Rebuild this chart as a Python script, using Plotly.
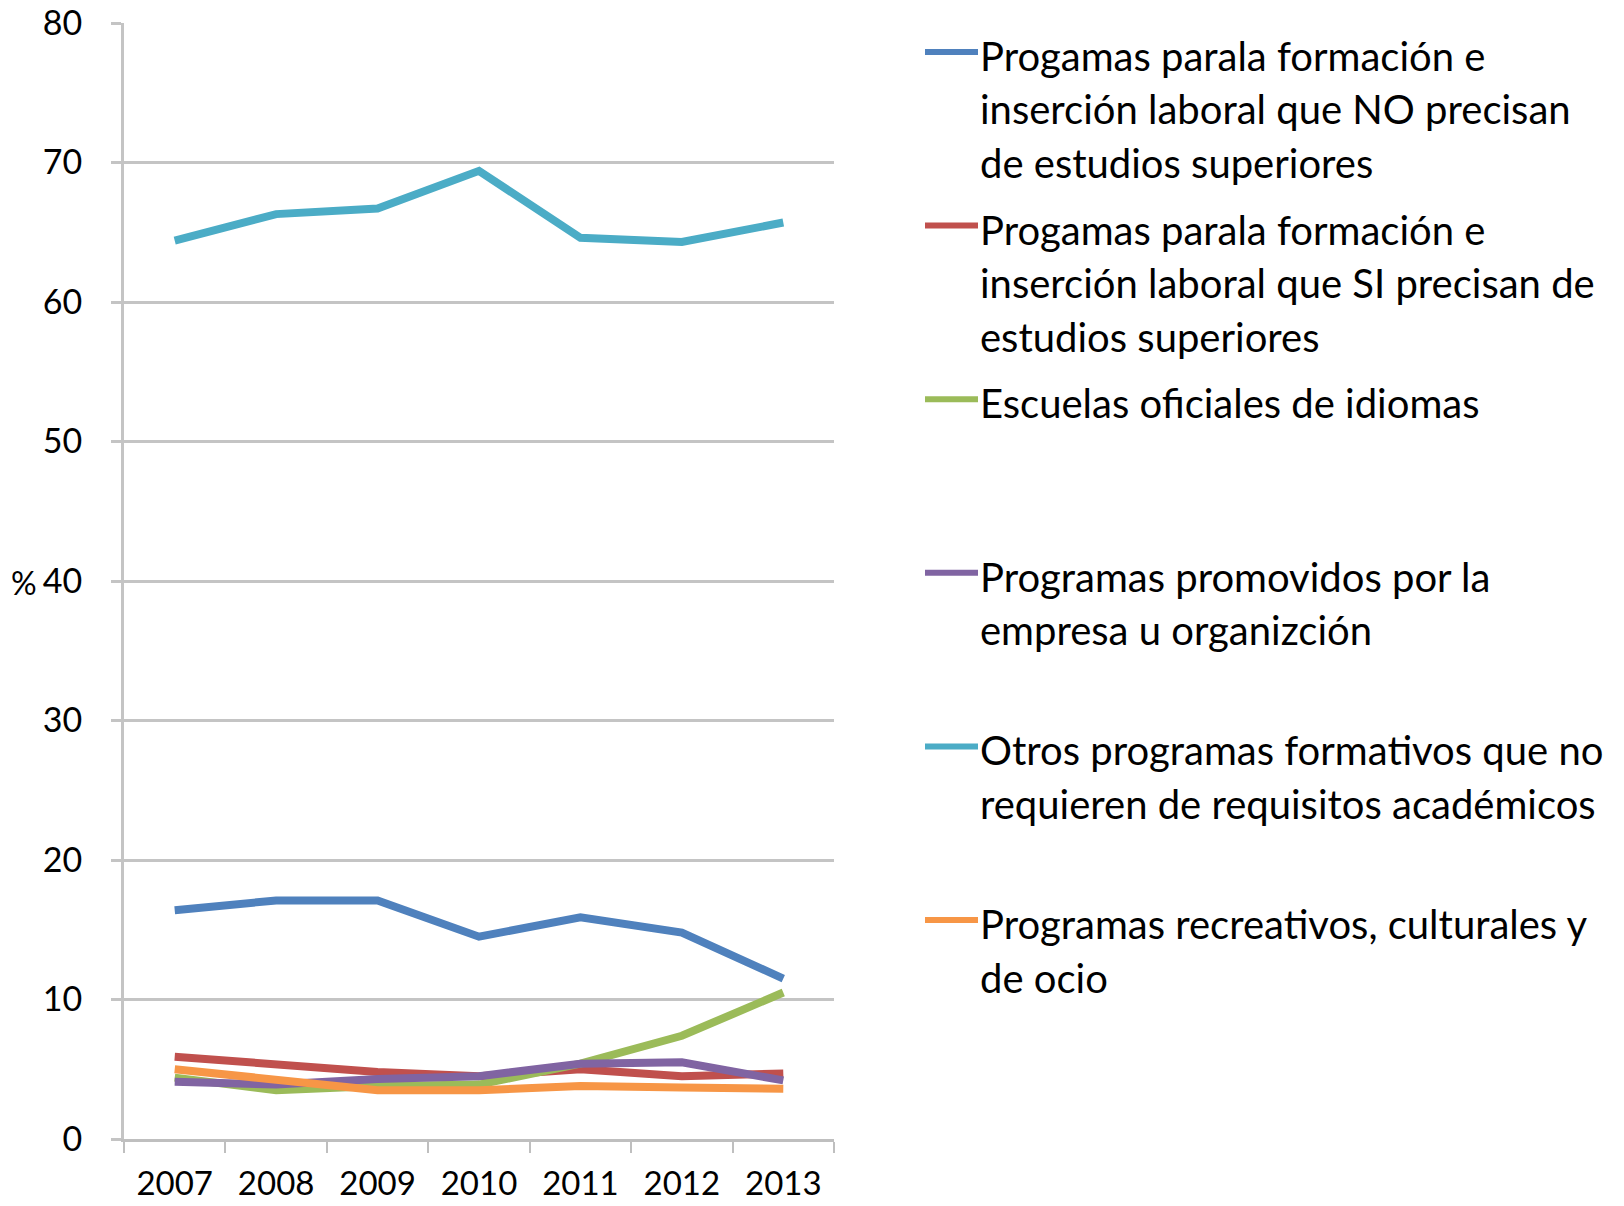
import plotly.graph_objects as go

years = ["2007", "2008", "2009", "2010", "2011", "2012", "2013"]

no_superiores = [16.4, 17.1, 17.1, 14.5, 15.9, 14.8, 11.5]
si_superiores = [5.9, 5.3, 4.8, 4.5, 5.0, 4.5, 4.7]
idiomas = [4.4, 3.5, 3.8, 3.9, 5.4, 7.4, 10.5]
empresa = [4.1, 3.9, 4.3, 4.5, 5.4, 5.5, 4.2]
otros = [64.4, 66.3, 66.7, 69.4, 64.6, 64.3, 65.7]
recreativos = [5.0, 4.2, 3.5, 3.5, 3.8, 3.7, 3.6]

series_names = [
    "Progamas parala formación e inserción laboral que NO precisan de estudios superiores",
    "Progamas parala formación e inserción laboral que SI precisan de estudios superiores",
    "Escuelas oficiales de idiomas",
    "Programas promovidos por la empresa u organizción",
    "Otros programas formativos que no requieren de requisitos académicos",
    "Programas recreativos, culturales y de ocio",
]
legend_lines = [
    ["Progamas parala formación e", "inserción laboral que NO precisan", "de estudios superiores"],
    ["Progamas parala formación e", "inserción laboral que SI precisan de", "estudios superiores"],
    ["Escuelas oficiales de idiomas"],
    ["Programas promovidos por la", "empresa u organizción"],
    ["Otros programas formativos que no", "requieren de requisitos académicos"],
    ["Programas recreativos, culturales y", "de ocio"],
]
series_values = [no_superiores, si_superiores, idiomas, empresa, otros, recreativos]
colors = ["#4F81BD", "#C0504D", "#9BBB59", "#8064A2", "#4BACC6", "#F79646"]

# body margin is removed by the post script, so page px == figure px
W, H = 1624, 1206
PLOT_L, PLOT_R, PLOT_T, PLOT_B = 124, 834, 23, 1139
ML = PLOT_L
MT = PLOT_T
MR = W - PLOT_R
MB = H - PLOT_B
PW = PLOT_R - PLOT_L
PH = PLOT_B - PLOT_T

FONT = "Lato"

fig = go.Figure()
for name, vals, col in zip(series_names, series_values, colors):
    fig.add_trace(go.Scatter(x=years, y=vals, mode="lines", name=name,
                             line=dict(color=col, width=8), showlegend=False))

def px_to_paper_x(px):
    return (px - PLOT_L) / PW

def py_to_paper_y(py):
    return 1 - (py - PLOT_T) / PH

annotations = []
shapes = []
first_line_y = 52
step = 173.6
line_gap = 53.5
for i, (lines, col) in enumerate(zip(legend_lines, colors)):
    y0 = first_line_y + i * step
    shapes.append(dict(type="line", xref="paper", yref="paper",
                       x0=px_to_paper_x(925), x1=px_to_paper_x(978),
                       y0=py_to_paper_y(y0), y1=py_to_paper_y(y0),
                       line=dict(color=col, width=6)))
    for j, txt in enumerate(lines):
        annotations.append(dict(text=txt, xref="paper", yref="paper",
                                x=px_to_paper_x(978), y=py_to_paper_y(y0 + 4 + j * line_gap),
                                xanchor="left", yanchor="middle", showarrow=False,
                                font=dict(family=FONT, size=40, color="#000000")))

annotations.append(dict(text="%", xref="paper", yref="paper",
                        x=px_to_paper_x(24), y=py_to_paper_y(582),
                        xanchor="center", yanchor="middle", showarrow=False,
                        font=dict(family=FONT, size=32, color="#000000")))

fig.update_layout(
    width=W, height=H,
    margin=dict(l=ML, r=MR, t=MT, b=MB, pad=0, autoexpand=False),
    paper_bgcolor="white", plot_bgcolor="white",
    font=dict(family=FONT, color="#000000"),
    annotations=annotations, shapes=shapes,
    showlegend=False,
)
fig.update_xaxes(type="category", range=[-0.5, 6.5], tickson="boundaries",
                 showgrid=False, showline=True, linecolor="#BFBFBF", linewidth=3,
                 ticks="outside", ticklen=11, tickwidth=2, tickcolor="#BFBFBF",
                 tickfont=dict(family=FONT, size=33, color="#000000"),
                 ticklabelstandoff=13, ticklabeloverflow="allow",
                 zeroline=False, automargin=False)
fig.update_yaxes(range=[0, 80], dtick=10, showgrid=True, gridcolor="#C4C4C4", gridwidth=3,
                 showline=True, linecolor="#C4C4C4", linewidth=3,
                 ticks="outside", ticklen=10, tickwidth=3, tickcolor="#C4C4C4",
                 tickfont=dict(family=FONT, size=34, color="#000000"),
                 ticklabelstandoff=22, ticklabeloverflow="allow",
                 zeroline=False, automargin=False)

fig.write_html("out.html",
               config={"displayModeBar": False},
               post_script="document.body.style.margin='0';document.body.style.overflow='hidden';")
